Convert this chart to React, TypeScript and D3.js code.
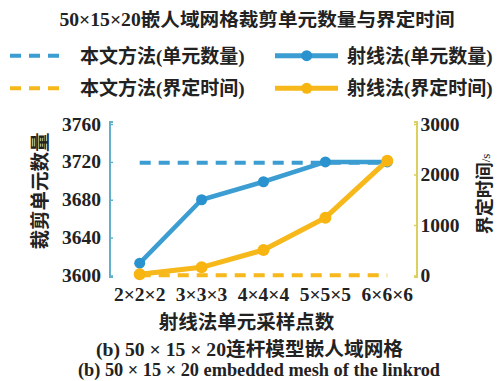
import React, { useEffect, useRef } from "react";
import * as d3 from "d3";

// Sampling density of the ray method (x categories)
const categories = ["2×2×2", "3×3×3", "4×4×4", "5×5×5", "6×6×6"];
// Clipped element count (left axis)
const rayCount = [3613, 3680, 3699, 3720, 3720];
const oursCount = 3719;
// Bounding time in seconds (right axis)
const rayTime = [24, 162, 505, 1145, 2273];
const oursTime = 5;

const leftTicks = [3600, 3640, 3680, 3720, 3760];
const rightTicks = [0, 1000, 2000, 3000];

const titleText = "50×15×20嵌人域网格裁剪单元数量与界定时间";
const legendLabels = ["本文方法(单元数量)", "射线法(单元数量)", "本文方法(界定时间)", "射线法(界定时间)"];
const leftLabel = "裁剪单元数量";
const rightLabel = "界定时间";
const rightUnit = "/s";
const xLabel = "射线法单元采样点数";
const captionCn = "(b)  50 × 15 × 20连杆模型嵌人域网格";
const captionEn = "(b)  50 × 15 × 20 embedded mesh of the linkrod";

const W = 503;
const H = 381;
const FONT = "'Liberation Serif', 'Noto Sans CJK SC', serif";
const BLUE = "#3b9dd1";
const BLUE_DOT = "#2a93cf";
const GOLD = "#f6b81a";
const GOLD_DOT = "#f8b512";
const AXIS_L = "#62b0cc";
const AXIS_R = "#d9d05e";

export default function App() {
  const leftRef = useRef<SVGGElement>(null);
  const rightRef = useRef<SVGGElement>(null);

  const x = d3.scalePoint<string>().domain(categories).range([110, 417]).padding(0.48);
  const yL = d3.scaleLinear().domain([3600, 3760]).range([275.5, 124]);
  const yR = d3.scaleLinear().domain([0, 3000]).range([275.5, 124]);

  useEffect(() => {
    const gl = d3.select(leftRef.current!);
    gl.call(d3.axisRight(yL).tickValues(leftTicks).tickSize(3).tickFormat(() => "") as any);
    gl.select(".domain").attr("stroke", AXIS_L).attr("stroke-width", 2).attr("d", `M3,${yL(3760) - 2}H0V${yL(3600) + 1.5}H3`);
    gl.selectAll(".tick line").attr("stroke", AXIS_L).attr("stroke-width", 1.5);

    const gr = d3.select(rightRef.current!);
    gr.call(d3.axisLeft(yR).tickValues(rightTicks).tickSize(3).tickFormat(() => "") as any);
    gr.select(".domain").attr("stroke", AXIS_R).attr("stroke-width", 2).attr("d", `M-3,${yR(3000) - 2}H0V${yR(0) + 1.5}H-3`);
    gr.selectAll(".tick line").attr("stroke", AXIS_R).attr("stroke-width", 1.5);
  }, []);

  const lineL = d3.line<number>().x((_, i) => x(categories[i])!).y((d) => yL(d));
  const lineR = d3.line<number>().x((_, i) => x(categories[i])!).y((d) => yR(d));
  const x0 = x(categories[0])!;
  const x1 = x(categories[categories.length - 1])!;

  return (
    <svg width={W} height={H} style={{ position: "absolute", left: 0, top: 0, background: "#fff" }} fontFamily={FONT}>
      <rect width={W} height={H} fill="#fff" />
      <text x={257} y={20} textAnchor="middle" dominantBaseline="central" fontSize={18.5} fontWeight="bold" fill="#222" textLength={395} lengthAdjust="spacingAndGlyphs">
        {titleText}
      </text>

      {/* legend */}
      <g fontSize={19} fontWeight="bold" fill="#222">
        <line x1={10} x2={60} y1={55.7} y2={55.7} stroke={BLUE} strokeWidth={4} strokeDasharray="11 8" />
        <text x={80} y={56} dominantBaseline="central">{legendLabels[0]}</text>
        <line x1={275} x2={338} y1={55.7} y2={55.7} stroke={BLUE} strokeWidth={5} />
        <circle cx={306.7} cy={55.7} r={5.5} fill={BLUE_DOT} />
        <text x={347} y={56} dominantBaseline="central">{legendLabels[1]}</text>
        <line x1={10} x2={60} y1={88.3} y2={88.3} stroke={GOLD} strokeWidth={4} strokeDasharray="11 8" />
        <text x={80} y={88.5} dominantBaseline="central">{legendLabels[2]}</text>
        <line x1={275} x2={338} y1={88.3} y2={88.3} stroke={GOLD} strokeWidth={5} />
        <circle cx={306.7} cy={88.3} r={5.5} fill={GOLD_DOT} />
        <text x={347} y={88.5} dominantBaseline="central">{legendLabels[3]}</text>
      </g>

      {/* axes */}
      <g ref={leftRef} transform="translate(110,0)" />
      <g ref={rightRef} transform="translate(417,0)" />
      <g fontSize={19.5} fontWeight="bold" fill="#222">
        {leftTicks.map((t) => (
          <text key={t} x={101} y={yL(t)} textAnchor="end" dominantBaseline="central">{t}</text>
        ))}
        {rightTicks.map((t) => (
          <text key={t} x={420.5} y={yR(t)} dominantBaseline="central">{t}</text>
        ))}
        {categories.map((c) => (
          <text key={c} x={x(c)} y={294} textAnchor="middle" dominantBaseline="central">{c}</text>
        ))}
      </g>
      <text transform="translate(40,191) rotate(-90)" textAnchor="middle" dominantBaseline="central" fontSize={19.5} fontWeight="bold" fill="#222">
        {leftLabel}
      </text>
      <text transform="translate(485,194) rotate(-90)" textAnchor="middle" dominantBaseline="central" fontWeight="bold" fill="#222">
        <tspan fontSize={18}>{rightLabel}</tspan>
        <tspan fontSize={13} fontWeight="normal">{rightUnit}</tspan>
      </text>

      {/* reference lines of the proposed method */}
      <line x1={x0} x2={x1} y1={yL(oursCount)} y2={yL(oursCount)} stroke={BLUE} strokeWidth={4} strokeDasharray="11 8" />
      <line x1={x0} x2={x1} y1={yR(oursTime)} y2={yR(oursTime)} stroke={GOLD} strokeWidth={4} strokeDasharray="11 8" />

      {/* ray method series */}
      <path d={lineL(rayCount)!} fill="none" stroke={BLUE} strokeWidth={4.5} strokeLinejoin="round" />
      {rayCount.map((v, i) => (
        <circle key={i} cx={x(categories[i])} cy={yL(v)} r={5.5} fill={BLUE_DOT} />
      ))}
      <path d={lineR(rayTime)!} fill="none" stroke={GOLD} strokeWidth={5} strokeLinejoin="round" />
      {rayTime.map((v, i) => (
        <circle key={i} cx={x(categories[i])} cy={yR(v)} r={6} fill={GOLD_DOT} />
      ))}

      <text x={246.5} y={322} textAnchor="middle" dominantBaseline="central" fontSize={19.5} fontWeight="bold" fill="#222">
        {xLabel}
      </text>
      <text x={249.5} y={349.5} textAnchor="middle" dominantBaseline="central" fontSize={19} fontWeight="bold" fill="#222" textLength={307} lengthAdjust="spacingAndGlyphs">
        {captionCn}
      </text>
      <text x={259} y={369.5} textAnchor="middle" dominantBaseline="central" fontSize={19} fontWeight="bold" fill="#222" textLength={362} lengthAdjust="spacingAndGlyphs">
        {captionEn}
      </text>
    </svg>
  );
}
